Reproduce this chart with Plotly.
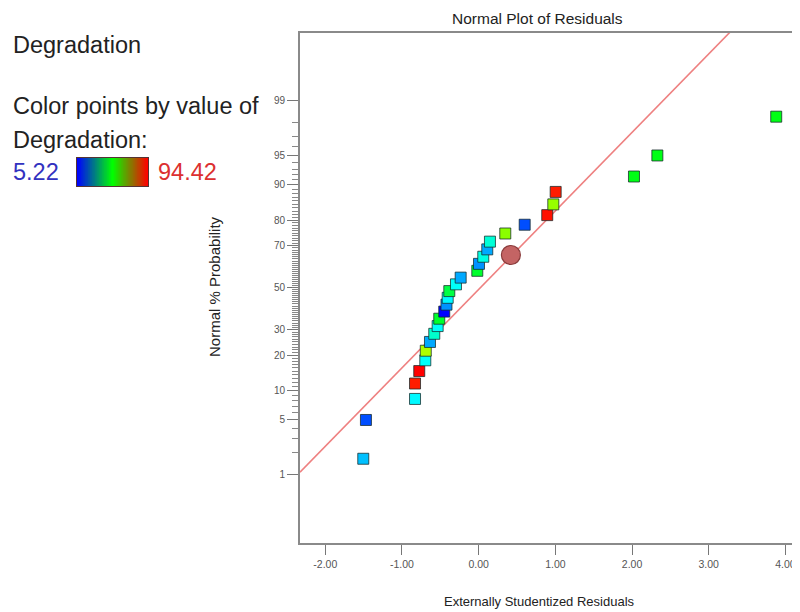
from statistics import NormalDist
import plotly.graph_objects as go

# ---------------- data ----------------
residuals = [-1.505, -1.47, -0.83, -0.83, -0.775, -0.696, -0.69, -0.635, -0.579, -0.535,
             -0.514, -0.449, -0.42, -0.404, -0.383, -0.296, -0.235, -0.018, 0.004, 0.06,
             0.112, 0.147, 0.347, 0.60, 0.894, 0.973, 1.004, 2.025, 2.33, 3.88]
probability = [1.67, 5.0, 8.33, 11.67, 15.0, 18.33, 21.67, 25.0, 28.33, 31.67,
               35.0, 38.33, 41.67, 45.0, 48.33, 51.67, 55.0, 58.33, 61.67, 65.0,
               68.33, 71.67, 75.0, 78.33, 81.67, 85.0, 88.33, 91.67, 95.0, 98.33]
degradation = [22, 12, 27, 92, 94.42, 28, 65, 20, 32, 28,
               46, 5.22, 18, 27, 44, 28, 20, 46, 18, 30,
               20, 31, 62, 12, 93, 63, 92, 48, 48, 48]
highlight_x = [0.42]
highlight_p = [65.8]
line_slope = 0.976
line_intercept = -0.02
line_x = [-2.33, 3.4]
deg_min, deg_max = 5.22, 94.42

x_ticks = [-2, -1, 0, 1, 2, 3, 4]
x_tick_text = ["-2.00", "-1.00", "0.00", "1.00", "2.00", "3.00", "4.00"]
y_major = [1, 5, 10, 20, 30, 50, 70, 80, 90, 95, 99]
y_minor = [p for p in range(1, 100) if p not in y_major]

nd = NormalDist()
def probit(p):
    return nd.inv_cdf(p / 100.0)

FONT = "Arial, Liberation Sans, sans-serif"
rainbow = [[0, "#0000ff"], [0.25, "#00ffff"], [0.5, "#00ff00"], [0.75, "#ffff00"], [1, "#ff0000"]]
legend_scale = [[0, "#0000ff"], [0.5, "#00ff00"], [1, "#ff0000"]]

# the page body adds an 8px offset; lay out in window pixels and shift
OFF = 8
W, H = 800 - OFF, 612 - OFF
T, B = 33 - OFF, 543 - OFF   # plot-area top / bottom (figure pixels)
PH = B - T

def px_x(px):            # window pixel -> paper x
    return (px - OFF) / W

def px_y(py):            # window pixel -> paper y
    return (B - (py - OFF)) / PH

fig = go.Figure()

line_y = [line_slope * v + line_intercept for v in line_x]
fig.add_trace(go.Scatter(x=line_x, y=line_y, mode="lines",
                         line=dict(color="#ee8080", width=1.6),
                         hoverinfo="skip", showlegend=False))

fig.add_trace(go.Scatter(
    x=residuals, y=[probit(p) for p in probability], mode="markers",
    marker=dict(symbol="square", size=11, color=degradation, colorscale=rainbow,
                cmin=deg_min, cmax=deg_max, showscale=False,
                line=dict(color="rgba(20,40,40,0.75)", width=1)),
    showlegend=False))

fig.add_trace(go.Scatter(
    x=highlight_x, y=[probit(p) for p in highlight_p], mode="markers",
    marker=dict(symbol="circle", size=19, color="#c46464",
                line=dict(color="#8a3c3c", width=1.2)),
    showlegend=False))

# legend gradient bar
fig.add_trace(go.Heatmap(
    z=[list(range(101))], colorscale=legend_scale, showscale=False,
    xaxis="x2", yaxis="y2", hoverinfo="skip"))

fig.update_layout(
    width=W, height=H,
    margin=dict(l=0, r=0, t=T, b=H - B),
    paper_bgcolor="white", plot_bgcolor="white",
    font=dict(family=FONT, color="#222"),
    xaxis=dict(domain=[px_x(300), 1], range=[-2.33, 4.19], tickvals=x_ticks, ticktext=x_tick_text,
               showgrid=False, zeroline=False, showline=True, linecolor="#8a8a8a",
               linewidth=2, mirror=True, ticks="outside", ticklen=10, tickwidth=1,
               tickcolor="#777", tickfont=dict(size=10.5, color="#555")),
    yaxis=dict(range=[-3.175, 3.168], tickvals=[probit(p) for p in y_major],
               ticktext=[str(p) for p in y_major],
               showgrid=False, zeroline=False, showline=True, linecolor="#8a8a8a",
               linewidth=2, ticks="outside", ticklen=11, tickwidth=1, tickcolor="#777",
               tickfont=dict(size=10, color="#555"),
               minor=dict(tickmode="array", tickvals=[probit(p) for p in y_minor],
                          ticks="outside", ticklen=6, tickwidth=1, tickcolor="#888")),
    xaxis2=dict(domain=[px_x(77), px_x(148)], anchor="y2", showgrid=False, zeroline=False,
                showticklabels=False, ticks="", showline=True, mirror=True,
                linecolor="#553333", linewidth=1, fixedrange=True),
    yaxis2=dict(domain=[px_y(186), px_y(158)], anchor="x2", showgrid=False, zeroline=False,
                showticklabels=False, ticks="", showline=True, mirror=True,
                linecolor="#553333", linewidth=1, fixedrange=True),
)

def ann(text, px, py, size, color="#222", xanchor="left", angle=0):
    return dict(text=text, x=px_x(px), y=px_y(py), xref="paper", yref="paper",
                showarrow=False, xanchor=xanchor, yanchor="middle", textangle=angle,
                font=dict(size=size, color=color, family=FONT))

fig.update_layout(annotations=[
    ann("Normal Plot of Residuals", 537, 18, 15.5, xanchor="center"),
    ann("Externally Studentized Residuals", 539, 601, 13, xanchor="center"),
    ann("Normal % Probability", 214, 287, 15, xanchor="center", angle=-90),
    ann("Degradation", 11, 45, 23.5),
    ann("Color points by value of", 11, 106, 23.5),
    ann("Degradation:", 11, 140, 23.5),
    ann("5.22", 11, 172, 23.5, color="#3232c0"),
    ann("94.42", 156, 172, 23.5, color="#dc3030"),
])

fig.write_html("out.html")
